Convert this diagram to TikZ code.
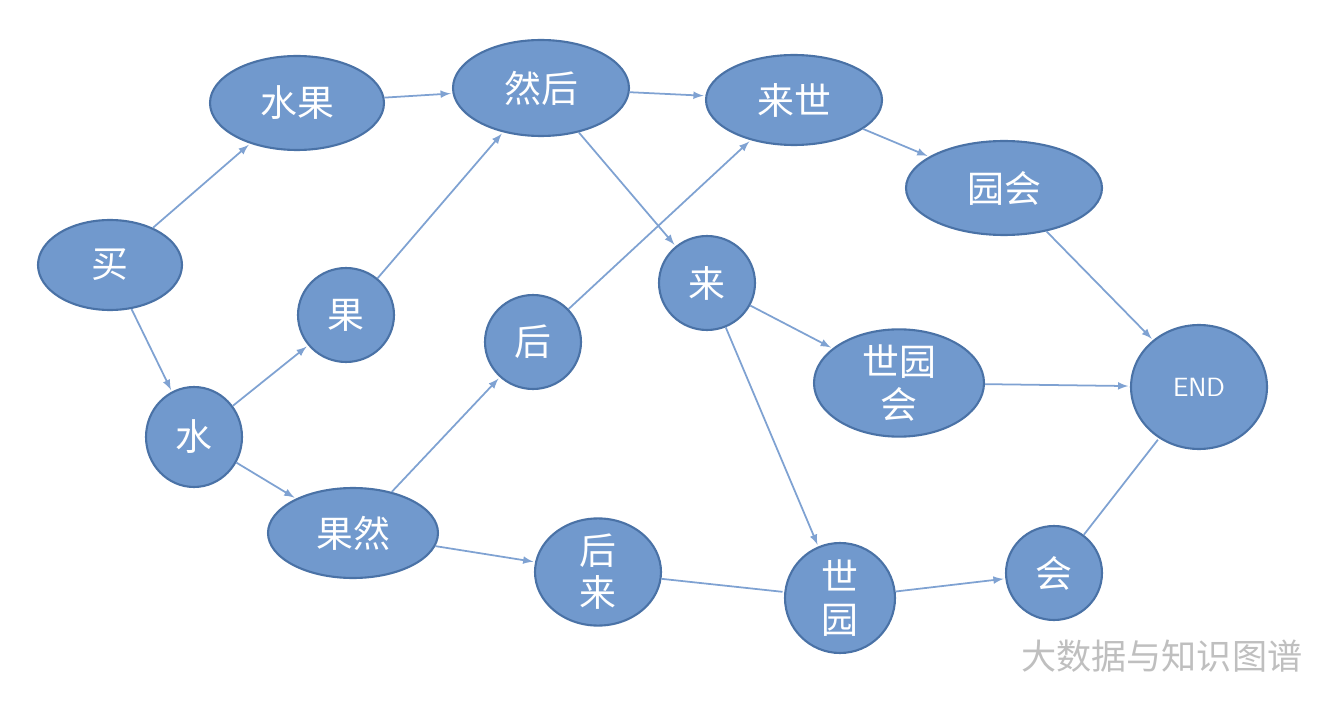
\documentclass[tikz,border=0pt]{standalone}
\usepackage{fontspec}
\newfontfamily\cjk{Noto Sans CJK SC}
\usetikzlibrary{shapes.geometric}
\definecolor{nodefill}{HTML}{7199CD}
\definecolor{nodeline}{HTML}{4A72A6}
\definecolor{edgeline}{HTML}{7FA2D2}
\begin{document}
\begin{tikzpicture}[x=0.02cm,y=-0.02cm,>=latex,
		word/.style={ellipse,draw=nodeline,fill=nodefill,line width=1.2pt,text=white,
			font=\cjk\fontsize{21}{24}\selectfont,align=center,inner sep=0pt},
		edge/.style={->,draw=edgeline,line width=1pt,shorten >=1pt}]
		\useasboundingbox (0,0) rectangle (1332,726);
		
		\node[word,minimum width=144\pgflinewidth,minimum width=2.88cm,minimum height=1.8cm] (mai) at (110,265) {买};
		\node[word,minimum width=3.48cm,minimum height=1.88cm] (shuiguo) at (297,103) {水果};
		\node[word,minimum width=3.52cm,minimum height=1.92cm] (ranhou) at (541,88) {然后};
		\node[word,minimum width=3.52cm,minimum height=1.8cm] (laishi) at (794,100) {来世};
		\node[word,minimum width=3.92cm,minimum height=1.88cm] (yuanhui) at (1004,188) {园会};
		\node[word,minimum width=1.92cm,minimum height=1.88cm] (guo) at (346,315) {果};
		\node[word,minimum width=1.92cm,minimum height=1.88cm] (hou) at (533,342) {后};
		\node[word,minimum width=1.92cm,minimum height=1.88cm] (lai) at (707,283) {来};
		\node[word,minimum width=3.4cm,minimum height=1.88cm] (shiyuanhui) at (899,383) {世园\\会};
		\node[word,minimum width=2.72cm,minimum height=2.48cm,font=\sffamily\fontsize{15}{18}\selectfont] (end) at (1199,387) {END};
		\node[word,minimum width=1.92cm,minimum height=2cm] (shui) at (194,437) {水};
		\node[word,minimum width=3.4cm,minimum height=1.8cm] (guoran) at (353,533) {果然};
		\node[word,minimum width=2.52cm,minimum height=1.92cm] (houlai) at (598,572) {后\\来};
		\node[word,minimum width=2.2cm,minimum height=2.2cm] (shiyuan) at (840,598) {世\\园};
		\node[word,minimum width=1.92cm,minimum height=1.88cm] (hui) at (1054,573) {会};
		
		\draw[edge] (mai) -- (shuiguo);
		\draw[edge] (mai) -- (shui);
		\draw[edge] (shui) -- (guo);
		\draw[edge] (shui) -- (guoran);
		\draw[edge] (guo) -- (ranhou);
		\draw[edge] (shuiguo) -- (ranhou);
		\draw[edge] (ranhou) -- (laishi);
		\draw[edge] (ranhou) -- (lai);
		\draw[edge] (laishi) -- (yuanhui);
		\draw[edge] (guoran) -- (hou);
		\draw[edge] (hou) -- (laishi);
		\draw[edge] (guoran) -- (houlai);
		\draw[edge,-] (houlai) -- (shiyuan);
		\draw[edge] (lai) -- (shiyuanhui);
		\draw[edge] (lai) -- (shiyuan);
		\draw[edge] (shiyuan) -- (hui);
		\draw[edge] (shiyuanhui) -- (end);
		\draw[edge] (yuanhui) -- (end);
		\draw[edge,-] (hui) -- (end);
		
		\node[text=black!25,font=\cjk\fontsize{20}{24}\selectfont,anchor=west] (mark) at (1015,656) {大数据与知识图谱};
		\end{tikzpicture}
\end{document}
